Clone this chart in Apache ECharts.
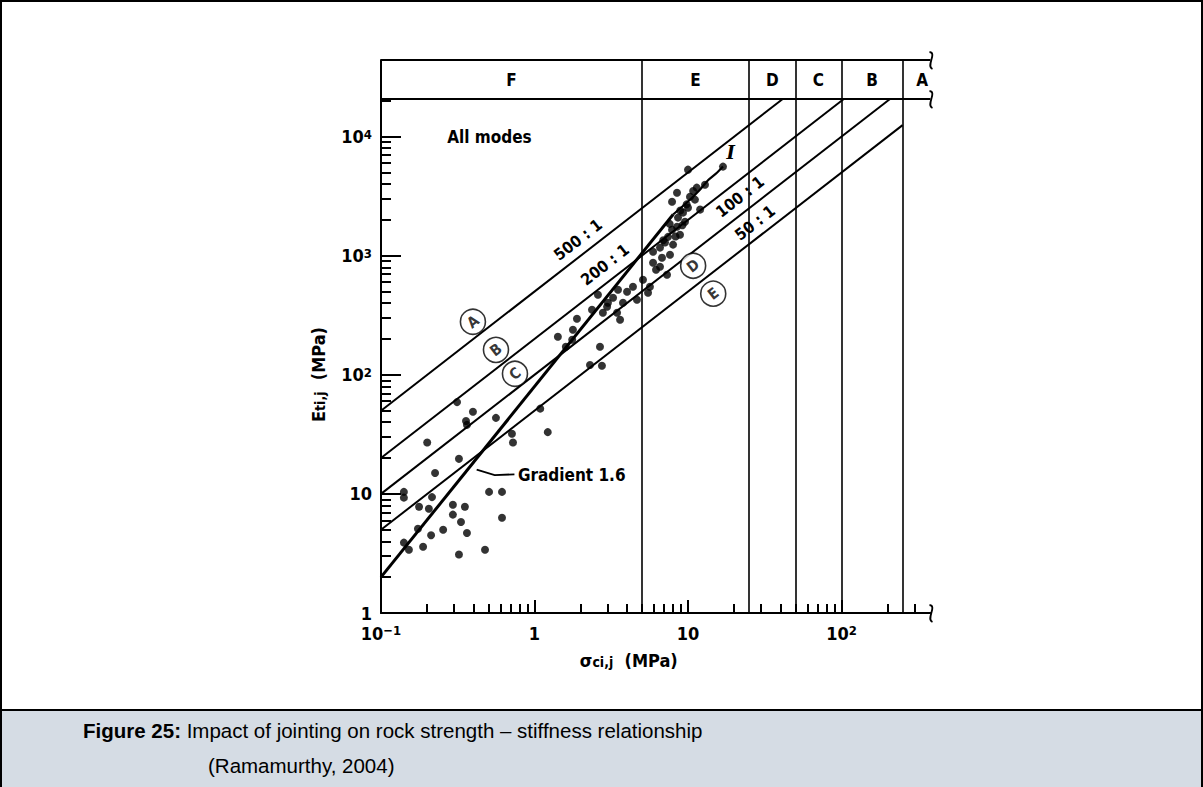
<!DOCTYPE html>
<html>
<head>
<meta charset="utf-8">
<script src="https://cdn.jsdelivr.net/npm/echarts@6/dist/echarts.min.js"></script>
<style>
  html, body { margin: 0; padding: 0; background: #fff; }
  #chart { width: 1203px; height: 787px; }
</style>
</head>
<body>
<div id="chart"></div>
<script>
// ---- axis extents (MPa) ----
const X_MIN = 0.1, X_MAX = 380;
const Y_MIN = 1, Y_MAX = 44000;
const HEADER_E = 20800;               // lower edge of the strength-class band

// ---- tick values and labels ----
const X_DECADES = [0.1, 1, 10, 100];
const Y_DECADES = [1, 10, 100, 1000, 10000];
const MINOR_STEPS = [2, 3, 4, 5, 6, 7, 8, 9];
const X_TICK_LABELS = { '-1': '10{s|\u22121}', '0': '1', '1': '10', '2': '10{s|2}' };
const Y_TICK_LABELS = { '0': '1', '1': '10', '2': '10{s|2}', '3': '10{s|3}', '4': '10{s|4}' };

// ---- strength classes (uniaxial compressive strength boundaries) ----
const CLASS_BOUNDS = [5, 25, 50, 100, 250];
const CLASS_LETTERS = ['F', 'E', 'D', 'C', 'B', 'A'];
const CLASS_LETTER_X = [0.707, 11.2, 35.4, 70.7, 158, 335];
const CLASS_LETTER_Y = 30000;

// ---- modulus ratio lines  E = ratio * sigma ----
const RATIOS = [500, 200, 100, 50];
const RATIO_START = [0.1, 0.1, 0.1, 0.1];
const RATIO_END = [41.6, 104, 208, 250];
const RATIO_LABELS = ['500 : 1', '200 : 1', '100 : 1', '50 : 1'];
const RATIO_LABEL_X = [1.92, 2.88, 21.8, 27.3];
const RATIO_LABEL_Y = [1363, 840, 3130, 1890];

// ---- modulus-ratio zone markers ----
const ZONE_NAMES = ['A', 'B', 'C', 'D', 'E'];
const ZONE_X = [0.397, 0.561, 0.746, 10.8, 14.6];
const ZONE_Y = [279, 162, 102, 824, 480];

// ---- trend: gradient 1.6 line and curve I ----
const GRAD_X = [0.1, 8];
const GRAD_Y = [2, 2220];
const CURVE_I_X = [8, 10, 12, 13.5, 15.5, 16.9];
const CURVE_I_Y = [2220, 2850, 3600, 4300, 5000, 5600];
const ARROW_X = [0.74, 0.55, 0.42];
const ARROW_Y = [14.6, 14.4, 16.0];

// ---- jointed rock test results: sigma_ci,j (MPa) and E_ti,j (MPa) ----
const SIGMA = [
  0.141, 0.141, 0.141, 0.152, 0.174, 0.177, 0.188, 0.205, 0.215, 0.212, 0.254,
  0.294, 0.294, 0.332, 0.352, 0.363, 0.322, 0.476, 0.506, 0.614, 0.614, 0.225,
  0.20, 0.322, 0.313, 0.397, 0.358, 0.363, 0.561, 0.713, 0.724, 1.09, 1.22,
  1.42, 1.78, 1.89, 2.37, 2.59, 2.67, 2.30, 2.75, 1.60, 1.76, 3.01, 3.25, 3.50,
  3.77, 3.61, 4.65, 5.49, 4.38, 5.92, 6.57, 7.30, 2.79, 3.45, 2.97, 4.01, 5.09, 5.65,
  10.0, 16.9, 11.4, 8.48, 10.3, 11.1, 7.87, 10.0, 9.28, 8.61, 8.48, 7.87, 8.87,
  7.41, 7.08, 7.99, 6.57, 5.92, 7.63, 12.9, 12.0, 9.56, 6.77, 6.19,
  9.8, 10.8, 8.9, 7.6, 9.2, 6.9, 8.3
];
const MODULUS = [
  10.4, 9.3, 3.9, 3.4, 5.1, 7.8, 3.6, 7.5, 9.4, 4.5, 5.0,
  8.1, 6.7, 5.8, 7.8, 4.7, 3.1, 3.4, 10.4, 10.4, 6.3, 15,
  27, 19.7, 59, 49, 41, 38, 43.5, 32, 27, 52, 33,
  209, 239, 296, 352, 470, 172, 121, 119, 172, 197, 403, 444, 518,
  403, 290, 427, 489, 549, 873, 808, 692, 332, 332, 373, 498, 629, 549,
  5280, 5600, 3730, 3380, 3130, 2960, 2840, 2530, 2300, 2090, 1750, 1650, 1500,
  1440, 1290, 1240, 1170, 1080, 1020, 3950, 2440, 1930, 962, 763,
  2700, 3500, 2400, 1850, 1800, 1350, 1450
];

// ---- layout ----
const W = 1203, H = 787;
const GRID = { left: 381, top: 60, right: 272.5, bottom: 174 };
const RIGHT_EDGE = W - GRID.right;
const FONT = "'DejaVu Sans Condensed', 'DejaVu Sans', sans-serif";
const CAPTION_FONT = "'Liberation Sans', Arial, sans-serif";
const LINE_ANGLE = Math.atan2(119, 153.5);   // slope of a 1:1 line on this log-log grid

const chart = echarts.init(document.getElementById('chart'), null, { renderer: 'svg' });

function powerLabel(map) {
  return function (v) {
    const e = Math.log10(v);
    const r = Math.round(e);
    if (Math.abs(e - r) > 1e-6) return '';
    return map[String(r)] || '';
  };
}

// minor tick positions (2..9 within each decade)
const xMinor = [], yMinor = [];
X_DECADES.forEach(d => MINOR_STEPS.forEach(m => { if (d * m < X_MAX) xMinor.push(+(d * m).toPrecision(3)); }));
Y_DECADES.forEach(d => MINOR_STEPS.forEach(m => { if (d * m < HEADER_E) yMinor.push(+(d * m).toPrecision(3)); }));

const tickLine = { color: '#000', width: 2 };

const ratioSeries = RATIOS.map((r, i) => ({
  type: 'line',
  silent: true,
  symbol: 'none',
  lineStyle: { color: '#000', width: 2 },
  data: [[RATIO_START[i], r * RATIO_START[i]], [RATIO_END[i], r * RATIO_END[i]]],
  z: 3
}));

function textItem(xs, ys, texts, style, rot) {
  return {
    type: 'custom',
    silent: true,
    z: 6,
    data: xs.map((x, i) => [x, ys[i], i]),
    renderItem: function (params, api) {
      const p = api.coord([api.value(0), api.value(1)]);
      const i = api.value(2);
      return {
        type: 'text',
        x: p[0], y: p[1],
        rotation: rot || 0,
        style: Object.assign({ text: texts[i], fill: '#000' }, style)
      };
    }
  };
}

const subStyle = { fontFamily: FONT, fontSize: 14, fontWeight: 'bold', verticalAlign: 'bottom', lineHeight: 14, padding: [7, 0, 0, 0] };
const supStyle = { fontFamily: FONT, fontSize: 13, fontWeight: 'bold', verticalAlign: 'top', lineHeight: 11 };

const option = {
  animation: false,
  backgroundColor: '#fff',
  grid: Object.assign({ containLabel: false, outerBoundsMode: 'none' }, GRID),
  xAxis: [
    {
      type: 'log', logBase: 10, min: X_MIN, max: X_MAX, position: 'bottom', z: 10,
      name: '\u03c3{sub|ci,j}  (MPa)',
      nameLocation: 'middle', nameGap: 38,
      nameTextStyle: {
        fontFamily: FONT, fontSize: 18, fontWeight: 'bold', color: '#000',
        padding: [0, 54, 0, 0],
        rich: { sub: subStyle }
      },
      axisLine: { show: true, lineStyle: { color: '#000', width: 2 } },
      axisTick: { show: true, inside: true, length: 13, lineStyle: tickLine, customValues: X_DECADES },
      splitLine: { show: false },
      minorTick: { show: false },
      axisLabel: {
        margin: 11, color: '#000', fontFamily: FONT, fontSize: 18, fontWeight: 'bold',
        customValues: X_DECADES,
        formatter: powerLabel(X_TICK_LABELS),
        rich: { s: supStyle }
      }
    },
    {
      // minor ticks only
      type: 'log', logBase: 10, min: X_MIN, max: X_MAX, position: 'bottom', offset: 0, z: 10,
      axisLine: { show: false },
      axisTick: { show: true, inside: true, length: 9, lineStyle: tickLine, customValues: xMinor },
      axisLabel: { show: false },
      splitLine: { show: false }
    }
  ],
  yAxis: [
    {
      type: 'log', logBase: 10, min: Y_MIN, max: Y_MAX, position: 'left', z: 10,
      name: 'E{sub|ti,j}  (MPa)',
      nameLocation: 'middle', nameGap: 54, nameRotate: 90,
      nameTextStyle: {
        fontFamily: FONT, fontSize: 18, fontWeight: 'bold', color: '#000',
        padding: [0, 76, 0, 0],
        rich: { sub: subStyle }
      },
      axisLine: { show: true, lineStyle: { color: '#000', width: 2 } },
      axisTick: { show: true, inside: true, length: 20, lineStyle: tickLine, customValues: Y_DECADES },
      splitLine: { show: false },
      minorTick: { show: false },
      axisLabel: {
        margin: 9, color: '#000', fontFamily: FONT, fontSize: 18, fontWeight: 'bold',
        customValues: Y_DECADES,
        formatter: powerLabel(Y_TICK_LABELS),
        rich: { s: supStyle }
      }
    },
    {
      // minor ticks only
      type: 'log', logBase: 10, min: Y_MIN, max: Y_MAX, position: 'left', offset: 0, z: 10,
      axisLine: { show: false },
      axisTick: { show: true, inside: true, length: 10, lineStyle: tickLine, customValues: yMinor },
      axisLabel: { show: false },
      splitLine: { show: false }
    }
  ],
  series: [
    // class boundaries, header band and frame lines
    {
      type: 'line', data: [], silent: true,
      markLine: {
        silent: true, symbol: 'none', label: { show: false },
        lineStyle: { color: '#000', type: 'solid', width: 1.6 },
        data: CLASS_BOUNDS.map(b => ({ xAxis: b }))
          .concat([{ yAxis: HEADER_E, lineStyle: { width: 2 } }, { yAxis: Y_MAX, lineStyle: { width: 2 } }])
      }
    },
    ...ratioSeries,
    // gradient 1.6 trend
    {
      type: 'line', silent: true, symbol: 'none', z: 3,
      lineStyle: { color: '#000', width: 3 },
      data: GRAD_X.map((x, i) => [x, GRAD_Y[i]])
    },
    // curve I
    {
      type: 'line', silent: true, symbol: 'none', smooth: 0.3, z: 3,
      lineStyle: { color: '#000', width: 2.2 },
      data: CURVE_I_X.map((x, i) => [x, CURVE_I_Y[i]])
    },
    // pointer to the gradient line
    {
      type: 'lines', coordinateSystem: 'cartesian2d', polyline: true, silent: true, z: 4,
      symbol: ['none', 'arrow'], symbolSize: 9,
      lineStyle: { color: '#000', width: 1.8, opacity: 1 },
      data: [{ coords: ARROW_X.map((x, i) => [x, ARROW_Y[i]]) }]
    },
    // test results
    {
      type: 'scatter', silent: true, z: 5,
      symbol: 'circle', symbolSize: 8,
      itemStyle: { color: '#000' },
      data: SIGMA.map((s, i) => [s, MODULUS[i]])
    },
    // zone markers
    {
      type: 'scatter', silent: true, z: 6,
      symbol: 'circle', symbolSize: 25,
      itemStyle: { color: '#fff', borderColor: '#000', borderWidth: 1.6 },
      label: {
        show: true, position: 'inside', color: '#000', rotate: 38,
        fontFamily: FONT, fontSize: 15, fontWeight: 'bold',
        formatter: p => p.name
      },
      data: ZONE_NAMES.map((n, i) => ({ name: n, value: [ZONE_X[i], ZONE_Y[i]] }))
    },
    // ratio line labels
    textItem(RATIO_LABEL_X, RATIO_LABEL_Y, RATIO_LABELS,
      { fontFamily: FONT, fontSize: 16, fontWeight: 'bold', align: 'center', verticalAlign: 'middle' }, LINE_ANGLE),
    // strength class letters
    textItem(CLASS_LETTER_X, CLASS_LETTER_X.map(() => CLASS_LETTER_Y), CLASS_LETTERS,
      { fontFamily: FONT, fontSize: 17, fontWeight: 'bold', align: 'center', verticalAlign: 'middle' }),
    // annotations
    textItem([0.27], [10000], ['All modes'],
      { fontFamily: FONT, fontSize: 17, fontWeight: 'bold', align: 'left', verticalAlign: 'middle' }),
    textItem([0.78], [14.4], ['Gradient 1.6'],
      { fontFamily: FONT, fontSize: 17, fontWeight: 'bold', align: 'left', verticalAlign: 'middle' }),
    textItem([19.0], [7300], ['I'],
      { fontFamily: "'DejaVu Serif', serif", fontSize: 18, fontStyle: 'italic', fontWeight: 'bold', align: 'center', verticalAlign: 'middle' })
  ],
  graphic: [
    // outer frame and caption band
    { type: 'rect', shape: { x: 0, y: 711, width: W, height: H - 711 }, style: { fill: '#d5dce4' }, z: 0 },
    { type: 'rect', shape: { x: 1, y: 1, width: W - 2, height: H }, style: { fill: 'none', stroke: '#000', lineWidth: 2 }, z: 1 },
    { type: 'line', shape: { x1: 0, y1: 710, x2: W, y2: 710 }, style: { stroke: '#000', lineWidth: 2 }, z: 1 },
    {
      type: 'text', left: 83, top: 720, z: 2,
      style: {
        text: '{b|Figure 25:} Impact of jointing on rock strength \u2013 stiffness relationship',
        fill: '#000', font: '20.5px ' + CAPTION_FONT,
        rich: { b: { fontWeight: 'bold', fontSize: 20.5, fontFamily: CAPTION_FONT } }
      }
    },
    {
      type: 'text', left: 208, top: 755, z: 2,
      style: { text: '(Ramamurthy, 2004)', fill: '#000', font: '20.5px ' + CAPTION_FONT }
    },
    // break marks at the open right end of the horizontal lines
    { type: 'bezierCurve', shape: { x1: RIGHT_EDGE - 1, y1: 52, cpx1: RIGHT_EDGE + 7, cpy1: 53, cpx2: RIGHT_EDGE - 5, cpy2: 66, x2: RIGHT_EDGE + 2, y2: 69 },
      style: { stroke: '#000', lineWidth: 1.8, fill: 'none' } },
    { type: 'bezierCurve', shape: { x1: RIGHT_EDGE - 1, y1: 91, cpx1: RIGHT_EDGE + 7, cpy1: 92, cpx2: RIGHT_EDGE - 5, cpy2: 105, x2: RIGHT_EDGE + 2, y2: 108 },
      style: { stroke: '#000', lineWidth: 1.8, fill: 'none' } },
    { type: 'bezierCurve', shape: { x1: RIGHT_EDGE - 1, y1: 605, cpx1: RIGHT_EDGE + 7, cpy1: 606, cpx2: RIGHT_EDGE - 5, cpy2: 619, x2: RIGHT_EDGE + 2, y2: 622 },
      style: { stroke: '#000', lineWidth: 1.8, fill: 'none' } }
  ]
};

chart.setOption(option);
</script>
</body>
</html>
